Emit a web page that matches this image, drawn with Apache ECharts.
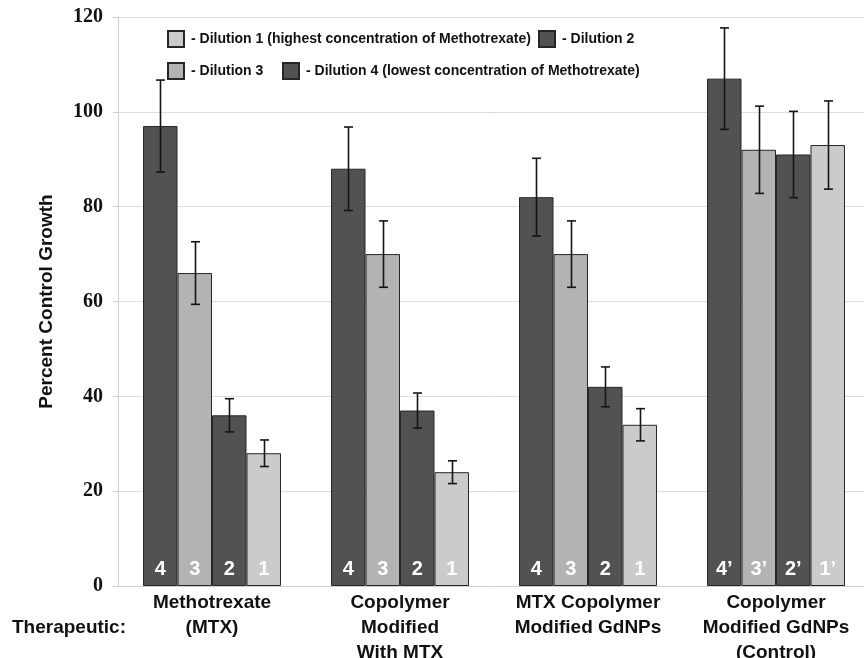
<!DOCTYPE html>
<html>
<head>
<meta charset="utf-8">
<script src="https://cdn.jsdelivr.net/npm/echarts@6/dist/echarts.min.js"></script>
<style>
  html, body { margin: 0; padding: 0; background: #fff; }
  #chart { width: 864px; height: 658px; }
</style>
</head>
<body>
<div id="chart"></div>
<script>
// Treatment groups on the category axis
const categories = [
  'Methotrexate\n(MTX)',
  'Copolymer\nModified\nWith MTX',
  'MTX Copolymer\nModified GdNPs',
  'Copolymer\nModified GdNPs\n(Control)'
];

// Percent control growth per dilution (one value per group)
const dil4 = [97, 88, 82, 107];
const dil3 = [66, 70, 70, 92];
const dil2 = [36, 37, 42, 91];
const dil1 = [28, 24, 34, 93];

// Error bar half-widths per dilution
const err4 = [9.7, 8.8, 8.2, 10.7];
const err3 = [6.6, 7.0, 7.0, 9.2];
const err2 = [3.5, 3.7, 4.2, 9.1];
const err1 = [2.8, 2.4, 3.4, 9.3];

// Labels printed at the foot of each bar
const tags4 = ['4', '4', '4', '4\u2019'];
const tags3 = ['3', '3', '3', '3\u2019'];
const tags2 = ['2', '2', '2', '2\u2019'];
const tags1 = ['1', '1', '1', '1\u2019'];

// Y-axis ticks
const yTicks = [0, 20, 40, 60, 80, 100, 120];

// Legend texts
const legendText = {
  'Dilution 1': '- Dilution 1 (highest concentration of Methotrexate)',
  'Dilution 2': '- Dilution 2',
  'Dilution 3': '- Dilution 3',
  'Dilution 4': '- Dilution 4 (lowest concentration of Methotrexate)'
};

const DARK = '#525252', MID = '#b3b3b3', LIGHT = '#cbcbcb', EDGE = '#262626';
const GAP = 0.266;

// Left-to-right order of bars inside a group
const barSeries = [
  { name: 'Dilution 4', values: dil4, errs: err4, tags: tags4, color: DARK },
  { name: 'Dilution 3', values: dil3, errs: err3, tags: tags3, color: MID },
  { name: 'Dilution 2', values: dil2, errs: err2, tags: tags2, color: DARK },
  { name: 'Dilution 1', values: dil1, errs: err1, tags: tags1, color: LIGHT }
];

const errData = [];
barSeries.forEach((s, slot) => {
  s.values.forEach((v, i) => {
    errData.push([i, slot, v - s.errs[i], v + s.errs[i]]);
  });
});

function renderError(params, api) {
  const c = api.value(0), slot = api.value(1);
  const lo = api.coord([c, api.value(2)]);
  const hi = api.coord([c, api.value(3)]);
  const band = api.size([1, 0])[0];
  const bw = band * (1 - GAP) / 4;
  const x = Math.round(lo[0] + (slot - 1.5) * bw) + 0.5;
  const cap = 4.5;
  const style = { stroke: '#151515', lineWidth: 1.6 };
  return {
    type: 'group',
    children: [
      { type: 'line', shape: { x1: x, y1: lo[1], x2: x, y2: hi[1] }, style },
      { type: 'line', shape: { x1: x - cap, y1: hi[1], x2: x + cap, y2: hi[1] }, style },
      { type: 'line', shape: { x1: x - cap, y1: lo[1], x2: x + cap, y2: lo[1] }, style }
    ]
  };
}

const legendBase = {
  orient: 'horizontal',
  itemWidth: 16,
  itemHeight: 16,
  icon: 'rect',
  selectedMode: false,
  padding: 0,
  formatter: name => legendText[name],
  textStyle: { fontFamily: 'Liberation Sans, Arial, sans-serif', fontWeight: 'bold', fontSize: 14, color: '#111', padding: [0, 0, 0, 2] }
};

const chart = echarts.init(document.getElementById('chart'), null, { renderer: 'canvas' });

chart.setOption({
  animation: false,
  backgroundColor: '#fff',
  grid: { left: 118, right: -6, top: 17, bottom: 72, containLabel: false, outerBoundsMode: 'none' },
  legend: [
    Object.assign({}, legendBase, { data: ['Dilution 1'], left: 167, top: 30 }),
    Object.assign({}, legendBase, { data: ['Dilution 2'], left: 538, top: 30 }),
    Object.assign({}, legendBase, { data: ['Dilution 3'], left: 167, top: 62 }),
    Object.assign({}, legendBase, { data: ['Dilution 4'], left: 282, top: 62 })
  ],
  xAxis: {
    type: 'category',
    data: categories,
    axisLine: { show: true, lineStyle: { color: '#cfcfcf', width: 1 } },
    axisTick: { show: false },
    axisLabel: {
      interval: 0,
      margin: 4,
      fontFamily: 'Liberation Sans, Arial, sans-serif',
      fontWeight: 'bold',
      fontSize: 19,
      lineHeight: 25,
      color: '#111',
      align: 'center'
    }
  },
  yAxis: {
    type: 'value',
    min: yTicks[0],
    max: yTicks[yTicks.length - 1],
    interval: yTicks[1] - yTicks[0],
    name: 'Percent Control Growth',
    nameLocation: 'middle',
    nameGap: 62,
    nameRotate: 90,
    nameTextStyle: {
      fontFamily: 'Liberation Sans, Arial, sans-serif',
      fontWeight: 'bold',
      fontSize: 19,
      color: '#111'
    },
    axisLine: { show: true, lineStyle: { color: '#cfcfcf', width: 1 } },
    axisTick: { show: true, length: 5, lineStyle: { color: '#cfcfcf' } },
    splitLine: { show: true, lineStyle: { color: '#dedede', width: 1 } },
    axisLabel: {
      margin: 15,
      fontFamily: 'Liberation Serif, Times New Roman, serif',
      fontWeight: 'bold',
      fontSize: 20,
      color: '#111'
    }
  },
  graphic: [
    {
      type: 'text',
      left: 12,
      top: 618,
      style: {
        text: 'Therapeutic:',
        font: 'bold 19px "Liberation Sans", Arial, sans-serif',
        fill: '#111'
      }
    }
  ],
  series: barSeries.map(s => ({
    name: s.name,
    type: 'bar',
    data: s.values,
    barGap: '0%',
    barCategoryGap: (GAP * 100) + '%',
    itemStyle: { color: s.color, borderColor: EDGE, borderWidth: 1 },
    label: {
      show: true,
      position: 'insideBottom',
      distance: 7,
      formatter: p => s.tags[p.dataIndex],
      fontFamily: 'Liberation Sans, Arial, sans-serif',
      fontWeight: 'bold',
      fontSize: 20,
      color: '#fff'
    },
    z: 2
  })).concat([{
    type: 'custom',
    name: 'error',
    renderItem: renderError,
    data: errData,
    encode: { x: 0, y: [2, 3] },
    z: 5,
    silent: true
  }])
});
</script>
</body>
</html>
